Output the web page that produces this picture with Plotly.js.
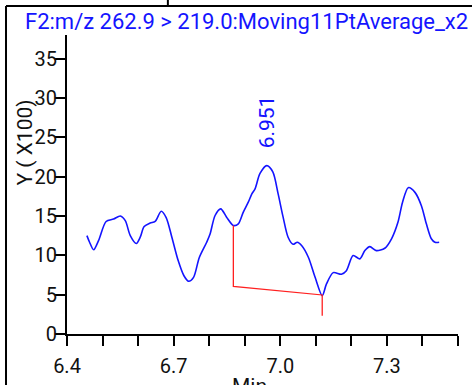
<!DOCTYPE html>
<html>
<head>
<meta charset="utf-8">
<script src="https://cdn.plot.ly/plotly-3.0.1.min.js"></script>
<style>html,body{margin:0;padding:0;background:#fff;}#chart{width:472px;height:385px;}</style>
</head>
<body>
<div id="chart"></div>
<script>
// Retention time (min) and intensity (x100)
const timeMin = [6.456,6.4635,6.475,6.489,6.51,6.531,6.55,6.564,6.578,6.595,6.606,6.617,6.634,6.648,6.665,6.679,6.695,6.713,6.729,6.742,6.756,6.772,6.793,6.8025,6.8166,6.8325,6.849,6.868,6.882,6.896,6.91,6.92,6.929,6.943,6.962,6.979,6.994,7.008,7.022,7.036,7.048,7.06,7.079,7.098,7.118,7.13,7.149,7.172,7.186,7.205,7.224,7.238,7.252,7.27,7.294,7.313,7.331,7.344,7.36,7.379,7.397,7.411,7.425,7.435,7.447];
const intensity = [12.5,11.66,10.7,11.9,14.3,14.6,15.0,14.4,12.5,11.5,12.3,13.65,14.1,14.3,15.6,14.8,12.3,9.3,7.4,6.7,7.2,9.7,11.66,12.7,15.06,15.9,14.85,13.8,14.0,15.5,16.75,17.8,18.45,20.4,21.4,20.6,17.8,14.85,12.3,11.4,11.66,11.24,9.75,7.2,4.87,6.36,7.8,7.6,8.05,9.97,9.55,10.6,11.1,10.6,10.9,12.1,14.2,16.75,18.6,18.0,16.3,14.0,12.1,11.66,11.66];
// Integration baseline
const baselineX = [6.868, 6.868, 7.118, 7.118];
const baselineY = [13.8, 6.06, 4.96, 2.33];
// Peak label
const peakLabel = "6.951";
const peakX = 6.962;
const peakLabelY = 27.0;
// Axis ticks
const xTickVals = [6.4,6.5,6.6,6.7,6.8,6.9,7.0,7.1,7.2,7.3,7.4,7.5];
const xTickText = ["6.4","","","6.7","","","7.0","","","7.3","",""];
const yTickVals = [0,5,10,15,20,25,30,35];
const yTickText = ["0","5","10","15","20","25","30","35"];
const titleText = "F2:m/z 262.9 > 219.0:Moving11PtAverage_x2";

const BLUE = "#1414ff";
const FONT = "Roboto, 'Liberation Sans', sans-serif";

const traces = [
  {x: timeMin, y: intensity, mode: "lines", line: {color: BLUE, width: 1.6, shape: "spline", smoothing: 0.8}, hoverinfo: "skip"},
  {x: baselineX, y: baselineY, mode: "lines", line: {color: "#ff2020", width: 1.3}, hoverinfo: "skip"}
];

const layout = {
  width: 472, height: 385,
  margin: {l: 67, r: 14, t: 35, b: 51},
  paper_bgcolor: "#fff", plot_bgcolor: "#fff",
  showlegend: false,
  font: {family: FONT, size: 20, color: "#111"},
  title: {text: titleText, font: {family: FONT, size: 22, color: BLUE}, x: 25/472, xanchor: "left", xref: "container", y: 1 - 21/385, yanchor: "middle", yref: "container"},
  xaxis: {range: [6.4, 7.5], tickmode: "array", tickvals: xTickVals, ticktext: xTickText, ticks: "outside", ticklen: 10, tickwidth: 2, tickcolor: "#000", showline: true, linecolor: "#000", linewidth: 2, showgrid: false, zeroline: false, tickfont: {size: 20, color: "#111"}, ticklabelstandoff: 3, fixedrange: true},
  yaxis: {range: [0, 38], tickmode: "array", tickvals: yTickVals, ticktext: yTickText, ticks: "outside", ticklen: 10, tickwidth: 2, tickcolor: "#000", showline: true, linecolor: "#000", linewidth: 2, showgrid: false, zeroline: false, tickfont: {size: 20, color: "#111"}, ticklabelstandoff: -6, fixedrange: true},
  shapes: [
    {type: "line", xref: "paper", yref: "paper", x0: -0.156, x1: -0.156, y0: 1.097, y1: -0.4, line: {color: "#000", width: 2}},
    {type: "line", xref: "paper", yref: "paper", x0: -0.156, x1: 1.2, y0: 1.097, y1: 1.097, line: {color: "#000", width: 2}},
    {type: "line", xref: "paper", yref: "paper", x0: 0.258, x1: 0.258, y0: 1.097, y1: 1.13, line: {color: "#000", width: 2}}
  ],
  annotations: [
    {text: peakLabel, x: peakX, y: peakLabelY, xref: "x", yref: "y", showarrow: false, textangle: -90, font: {family: FONT, size: 21, color: BLUE}},
    {text: "Y ( X100)", x: -0.142, y: 0.642, xref: "paper", yref: "paper", showarrow: false, textangle: -90, font: {family: FONT, size: 21, color: "#111"}},
    {text: "Min", x: 0.4677, y: -0.128, xref: "paper", yref: "paper", xanchor: "center", yanchor: "top", showarrow: false, font: {family: FONT, size: 21, color: "#111"}}
  ]
};

Plotly.newPlot("chart", traces, layout, {staticPlot: true, displayModeBar: false});
</script>
</body>
</html>
